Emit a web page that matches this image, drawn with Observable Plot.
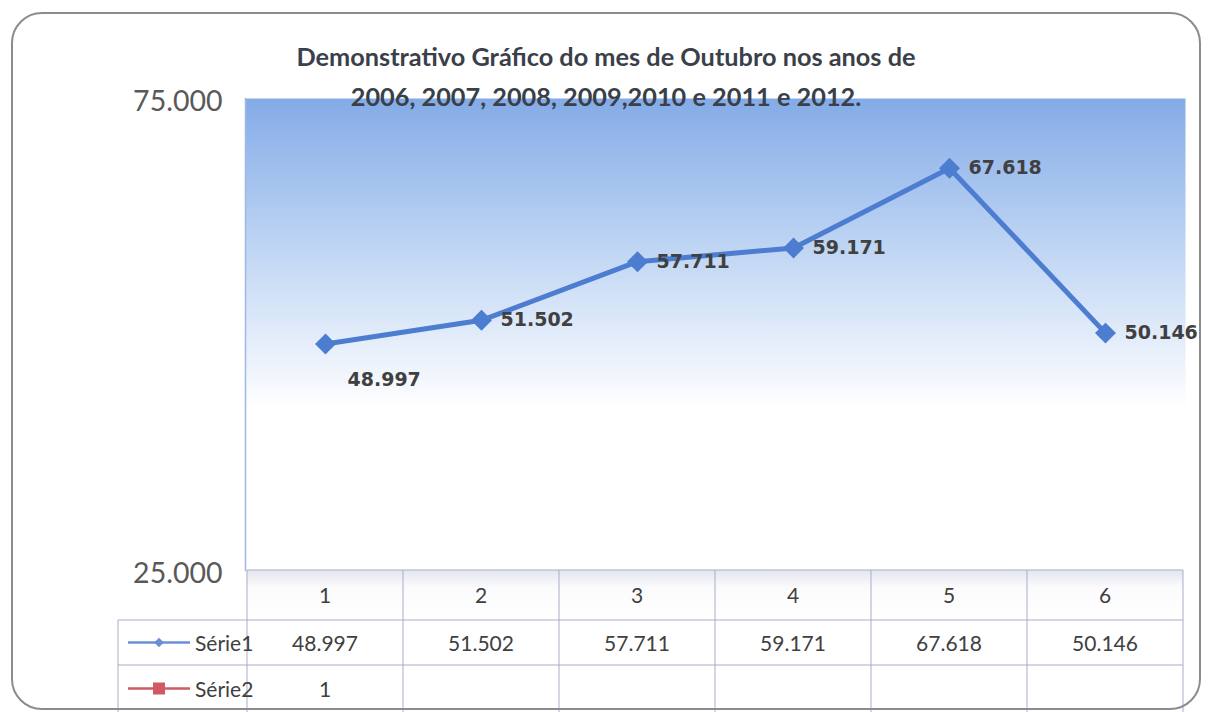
<!DOCTYPE html>
<html><head><meta charset="utf-8">
<script src="https://cdn.jsdelivr.net/npm/d3@7"></script>
<script src="https://cdn.jsdelivr.net/npm/@observablehq/plot@0.6"></script>
<style>
body{margin:0;background:#fff;}
#wrap{position:relative;width:1211px;height:712px;overflow:hidden;background:#fff;}
#wrap svg{position:absolute;left:0;top:0;}
</style></head><body><div id="wrap"></div>
<script>
const categories = [1, 2, 3, 4, 5, 6];
const serie1 = [48997, 51502, 57711, 59171, 67618, 50146];
const serie2 = [1, null, null, null, null, null];
const yTicks = [25000, 75000];
const seriesNames = ["Série1", "Série2"];
const titleLines = ["Demonstrativo Gráfico do mes de Outubro nos anos de", "2006, 2007, 2008, 2009,2010 e 2011 e 2012."];

const loc = d3.formatLocale({decimal: ",", thousands: ".", grouping: [3], currency: ["R$", ""]});
const fmt = loc.format(",d");
const rows = categories.map((c, i) => ({cat: c, v: serie1[i], i}));

const W = 1211, H = 712;
const humanist = "Lato,'Open Sans',sans-serif";
const blue = "#4d7dd0", red = "#c0504d";

const plot = Plot.plot({
  width: W, height: 620,
  marginLeft: 245, marginRight: 26, marginTop: 98, marginBottom: 50,
  style: {background: "transparent", overflow: "visible"},
  x: {type: "point", domain: categories, padding: 0.5, axis: null},
  y: {domain: [25000, 75000], axis: null},
  marks: [
    Plot.frame({fill: "url(#bgGrad)", stroke: "none"}),
    Plot.frame({anchor: "left", stroke: "#9fb8e4", strokeWidth: 1.5}),
    Plot.axisY(yTicks, {tickSize: 0, tickPadding: 23, tickFormat: fmt, fontSize: 28.5, fill: "#595959", fontFamily: humanist, label: null, dy: 3}),
    Plot.line(rows, {x: "cat", y: "v", stroke: blue, strokeWidth: 5}),
    Plot.dot(rows, {x: "cat", y: "v", symbol: "diamond2", r: 8.5, fill: blue, stroke: blue}),
    Plot.text(rows.filter(d => d.i > 0), {x: "cat", y: "v", text: d => fmt(d.v), dx: 19, textAnchor: "start", fontSize: 19, fontWeight: "bold", fill: "#404040", fontFamily: "'DejaVu Sans',sans-serif"}),
    Plot.text(rows.filter(d => d.i === 0), {x: "cat", y: "v", text: d => fmt(d.v), dx: 22, dy: 36, textAnchor: "start", fontSize: 19, fontWeight: "bold", fill: "#404040", fontFamily: "'DejaVu Sans',sans-serif"})
  ]
});

// gradient defs
const defs = d3.create("svg:defs");
const g = defs.append("linearGradient").attr("id", "bgGrad").attr("x1", 0).attr("y1", 0).attr("x2", 0).attr("y2", 1);
g.append("stop").attr("offset", "0%").attr("stop-color", "#84abe7");
g.append("stop").attr("offset", "30%").attr("stop-color", "#bcd3f3");
g.append("stop").attr("offset", "66%").attr("stop-color", "#ffffff");
g.append("stop").attr("offset", "100%").attr("stop-color", "#ffffff");
const hg = defs.append("linearGradient").attr("id", "hdrGrad").attr("x1", 0).attr("y1", 0).attr("x2", 0).attr("y2", 1);
hg.append("stop").attr("offset", "0%").attr("stop-color", "#e4e6ee");
hg.append("stop").attr("offset", "35%").attr("stop-color", "#fbfbfd");
hg.append("stop").attr("offset", "100%").attr("stop-color", "#ffffff");
plot.insertBefore(defs.node(), plot.firstChild);

const wrap = document.getElementById("wrap");
wrap.appendChild(plot);

// overlay: title, table, border
const xs = plot.scale("x");
const ys = plot.scale("y");
const cx = categories.map(c => xs.apply(c));
const step = cx[1] - cx[0];
const left = cx[0] - step / 2, right = cx[cx.length - 1] + step / 2;
const yTop = ys.apply(25000);
const rowB = [yTop, yTop + 50, yTop + 95, yTop + 142];
const legLeft = 118;

const ov = d3.create("svg").attr("width", W).attr("height", H).style("pointer-events", "none");
ov.append("svg:defs").node().appendChild(hg.node().cloneNode(true));

ov.append("rect").attr("x", left).attr("y", rowB[0]).attr("width", right - left).attr("height", rowB[1] - rowB[0]).attr("fill", "url(#hdrGrad)");

const lc = "#a9adc6";
ov.append("line").attr("x1", left).attr("x2", right).attr("y1", rowB[0]).attr("y2", rowB[0]).attr("stroke", lc);
[1, 2].forEach(k => ov.append("line").attr("x1", legLeft).attr("x2", right).attr("y1", rowB[k]).attr("y2", rowB[k]).attr("stroke", lc));
ov.append("line").attr("x1", legLeft).attr("x2", legLeft).attr("y1", rowB[1]).attr("y2", rowB[3]).attr("stroke", lc);
[left, ...cx.map(v => v + step / 2)].forEach(xv =>
  ov.append("line").attr("x1", xv).attr("x2", xv).attr("y1", rowB[0]).attr("y2", rowB[3]).attr("stroke", lc));

const cell = (x, y, t, anchor = "middle") => ov.append("text").attr("x", x).attr("y", y).attr("text-anchor", anchor)
  .attr("font-family", humanist).attr("font-size", 21).attr("fill", "#404040").text(t);
categories.forEach((c, i) => cell(cx[i], (rowB[0] + rowB[1]) / 2 + 8, c));
serie1.forEach((v, i) => cell(cx[i], (rowB[1] + rowB[2]) / 2 + 8, fmt(v)));
serie2.forEach((v, i) => { if (v != null) cell(cx[i], (rowB[2] + rowB[3]) / 2 + 8, fmt(v)); });

const legColors = ["#6b8fd6", "#d05a63"];
seriesNames.forEach((name, k) => {
  const yc = (rowB[k + 1] + rowB[k + 2]) / 2;
  ov.append("line").attr("x1", 128).attr("x2", 190).attr("y1", yc).attr("y2", yc).attr("stroke", legColors[k]).attr("stroke-width", 2.5);
  if (k === 0) ov.append("path").attr("d", d3.symbol(d3.symbolDiamond2, 60)()).attr("transform", `translate(159,${yc})`).attr("fill", legColors[0]);
  else ov.append("rect").attr("x", 153).attr("y", yc - 6).attr("width", 12).attr("height", 12).attr("fill", legColors[1]);
  cell(195, yc + 8, name, "start");
});

titleLines.forEach((t, k) => ov.append("text").attr("x", 606).attr("y", 66 + k * 40).attr("text-anchor", "middle")
  .attr("font-family", humanist).attr("font-weight", "bold").attr("font-size", 25.3).attr("fill", "#3a3f4a").text(t));

ov.append("rect").attr("x", 12).attr("y", 13).attr("width", 1188).attr("height", 696).attr("rx", 30)
  .attr("fill", "none").attr("stroke", "#8c8c8c").attr("stroke-width", 2);

wrap.appendChild(ov.node());
</script>
</body></html>
